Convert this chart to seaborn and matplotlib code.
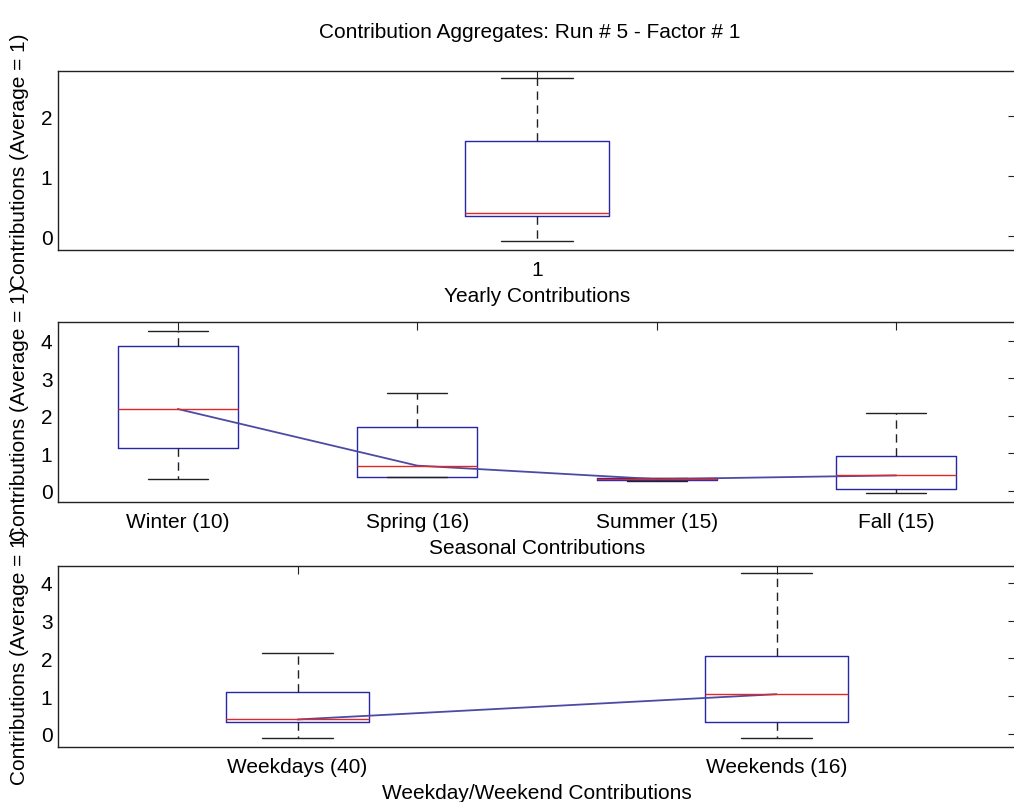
import matplotlib
matplotlib.use("Agg")
import matplotlib.pyplot as plt
import seaborn as sns
import pandas as pd

# ---------------- data ----------------
title = "Contribution Aggregates: Run # 5 - Factor # 1"
ylabel = "Contributions (Average = 1)"

yearly_labels = ["1"]
yearly_whislo = [-0.08]
yearly_q1 = [0.33]
yearly_med = [0.38]
yearly_q3 = [1.58]
yearly_whishi = [2.63]

seasonal_labels = ["Winter (10)", "Spring (16)", "Summer (15)", "Fall (15)"]
seasonal_whislo = [0.32, 0.36, 0.26, -0.06]
seasonal_q1 = [1.13, 0.38, 0.28, 0.05]
seasonal_med = [2.18, 0.67, 0.31, 0.41]
seasonal_q3 = [3.87, 1.71, 0.33, 0.94]
seasonal_whishi = [4.27, 2.62, 0.35, 2.08]

week_labels = ["Weekdays (40)", "Weekends (16)"]
week_whislo = [-0.10, -0.10]
week_q1 = [0.30, 0.31]
week_med = [0.38, 1.05]
week_q3 = [1.10, 2.07]
week_whishi = [2.15, 4.26]

xlabels = ["Yearly Contributions", "Seasonal Contributions", "Weekday/Weekend Contributions"]

# ---------------- style ----------------
sns.set_theme(style="white")
plt.rcParams["font.family"] = ["Liberation Sans", "DejaVu Sans"]
plt.rcParams["text.color"] = "black"
plt.rcParams["axes.labelcolor"] = "black"
FS = 15

fig = plt.figure(figsize=(10.14, 8.03), dpi=100)
W, H = 1014.0, 803.0

def axes_px(left, top, right, bottom):
    return fig.add_axes([left / W, 1 - bottom / H, (right - left) / W, (bottom - top) / H])

ax1 = axes_px(58, 72, 1016, 251)
ax2 = axes_px(58, 323, 1016, 503)
ax3 = axes_px(58, 567, 1016, 748)

panels = [
    (ax1, yearly_labels, yearly_whislo, yearly_q1, yearly_med, yearly_q3, yearly_whishi,
     0.15, (-0.23, 2.75), [0, 1, 2], False),
    (ax2, seasonal_labels, seasonal_whislo, seasonal_q1, seasonal_med, seasonal_q3, seasonal_whishi,
     0.5, (-0.30, 4.5), [0, 1, 2, 3, 4], True),
    (ax3, week_labels, week_whislo, week_q1, week_med, week_q3, week_whishi,
     0.3, (-0.35, 4.45), [0, 1, 2, 3, 4], True),
]

BOX_C = "#2626a8"
MED_C = "#e02828"
LINE_C = "#4b4ba6"

for i, (ax, labels, wlo, q1, med, q3, whi, width, ylim, yt, connect) in enumerate(panels):
    n = len(labels)
    positions = list(range(1, n + 1))
    stats = []
    for k in range(n):
        stats.append(dict(med=med[k], q1=q1[k], q3=q3[k], whislo=wlo[k], whishi=whi[k], fliers=[]))
    ax.bxp(stats, positions=positions, widths=width, capwidths=width / 2,
           showfliers=False, manage_ticks=False,
           boxprops=dict(color=BOX_C, linewidth=1.0),
           medianprops=dict(color=MED_C, linewidth=1.0),
           whiskerprops=dict(color="#222222", linewidth=1.0, linestyle=(0, (6, 4))),
           capprops=dict(color="#222222", linewidth=1.0))
    if connect:
        df = pd.DataFrame({"pos": positions, "median": med})
        sns.lineplot(data=df, x="pos", y="median", ax=ax, color=LINE_C, linewidth=1.3,
                     sort=False, estimator=None)
    ax.set_xlim(0.5, n + 0.5)
    ax.set_ylim(*ylim)
    ax.set_xticks(positions)
    ax.set_xticklabels(labels, fontsize=FS)
    ax.set_yticks(yt)
    ax.set_yticklabels([str(v) for v in yt], fontsize=FS)
    ax.tick_params(direction="in", length=6, width=0.8, top=True, right=True,
                   labeltop=False, labelright=False, colors="#222222",
                   labelcolor="black")
    ax.tick_params(axis="x", pad=7)
    ax.tick_params(axis="y", pad=4)
    ax.set_xlabel(xlabels[i], fontsize=FS, labelpad=5, color="black")
    ax.set_ylabel(ylabel, fontsize=FS, va="center", color="black")
    ax.yaxis.set_label_coords(-0.040, 0.5)
    for s in ax.spines.values():
        s.set_color("#222222")
        s.set_linewidth(1.0)
        s.set_visible(True)
    ax.grid(False)

fig.text(530 / W, 1 - 32 / H, title, ha="center", va="center", fontsize=FS, color="black")

fig.savefig("out.png", dpi=100, facecolor="white")
